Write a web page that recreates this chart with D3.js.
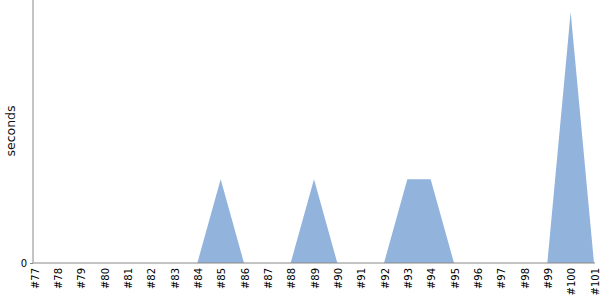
<!DOCTYPE html>
<html><head><meta charset="utf-8">
<script src="https://cdn.jsdelivr.net/npm/d3@7"></script>
<style>body{margin:0;background:#fff}svg{display:block}</style>
</head><body>
<svg id="c" width="600" height="300"></svg>
<script>
const builds = ["#77","#78","#79","#80","#81","#82","#83","#84","#85","#86","#87","#88","#89","#90","#91","#92","#93","#94","#95","#96","#97","#98","#99","#100","#101"];
const seconds = [0,0,0,0,0,0,0,0,1,0,0,0,1,0,0,0,1,1,0,0,0,0,0,3,0];
const yTicks = [0];

(function () {
const svg = d3.select("#c");
const mLeft = 33, mRight = 595, mTop = 0, mBottom = 263;
const x = d3.scalePoint().domain(builds).range([34, 594]);
const y = d3.scaleLinear().domain([0, 3 * 263 / 251]).range([mBottom, mTop]);

svg.append("path")
  .datum(seconds)
  .attr("fill", "#92b3dc")
  .attr("d", d3.area().x((d, i) => x(builds[i])).y0(y(0)).y1(d => y(d)));

const gy = svg.append("g").attr("transform", `translate(${mLeft},0)`)
  .call(d3.axisLeft(y).tickValues(yTicks).tickFormat(d3.format("d")).tickSize(3).tickPadding(3));
gy.select(".domain").attr("d", `M0,${mTop}V${mBottom}`);
gy.selectAll("path,line").attr("stroke", "#888");
gy.selectAll("text").attr("font-family", "DejaVu Sans").attr("font-size", 10).attr("fill", "#000");

const gx = svg.append("g").attr("transform", `translate(0,${mBottom})`)
  .call(d3.axisBottom(x).tickSize(0).tickPadding(0));
gx.select(".domain").attr("d", `M${mLeft},0H${mRight}`).attr("stroke", "#888");
gx.selectAll("text")
  .attr("font-family", "DejaVu Sans").attr("font-size", 10).attr("fill", "#000")
  .attr("text-anchor", "end").attr("dy", null).attr("y", 0)
  .attr("transform", "translate(4,5) rotate(-90)");

svg.append("text")
  .attr("transform", "translate(15,131) rotate(-90)")
  .attr("text-anchor", "middle")
  .attr("font-family", "DejaVu Sans").attr("font-size", 12.5)
  .attr("fill", "#111")
  .text("seconds");
})();
</script>
</body></html>
